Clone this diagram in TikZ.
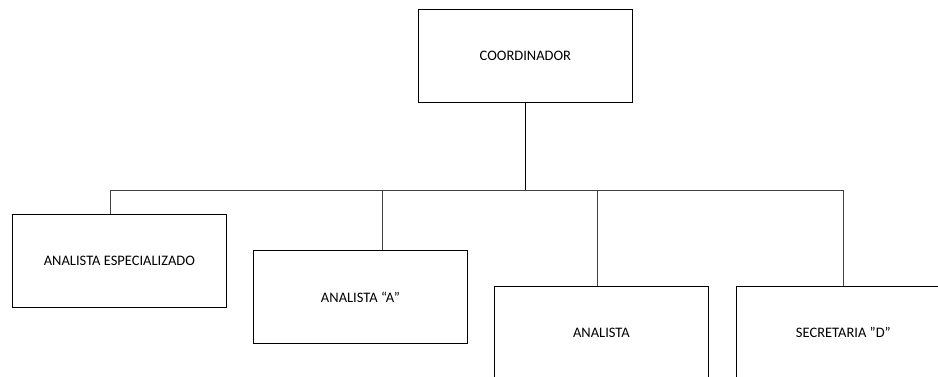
\documentclass[tikz,border=0pt]{standalone}
\usepackage{fontspec}
\setmainfont{Carlito}
\begin{document}
\begin{tikzpicture}[x=1pt,y=-1pt,
  box/.style={draw=black,line width=0.8pt,minimum width=214pt,minimum height=93pt,anchor=north west,inner sep=0pt,font=\fontsize{14.5}{17}\selectfont},
  conn/.style={draw=black!75,line width=0.8pt}]
\useasboundingbox (0,0) rectangle (938,377);
\clip (0,0) rectangle (938,377);
\node[box] (coord) at (418,9) {COORDINADOR};
\node[box] (ae) at (12,214) {ANALISTA ESPECIALIZADO};
\node[box] (aa) at (253,250) {ANALISTA “A”};
\node[box] (an) at (494,286) {ANALISTA};
\node[box] (sec) at (736,286) {SECRETARIA ”D”};
\coordinate (hub) at (525,190);
\coordinate (l) at (110,190);
\coordinate (r) at (843,190);
\coordinate (c2) at (382,190);
\coordinate (c3) at (597,190);
\draw[line width=0.8pt] (coord.south -| hub) -- (hub);
\draw[conn] (l) -- (r);
\draw[conn] (l) -- (l |- ae.north);
\draw[conn] (c2) -- (c2 |- aa.north);
\draw[conn] (c3) -- (c3 |- an.north);
\draw[conn] (r) -- (r |- sec.north);
\end{tikzpicture}
\end{document}
